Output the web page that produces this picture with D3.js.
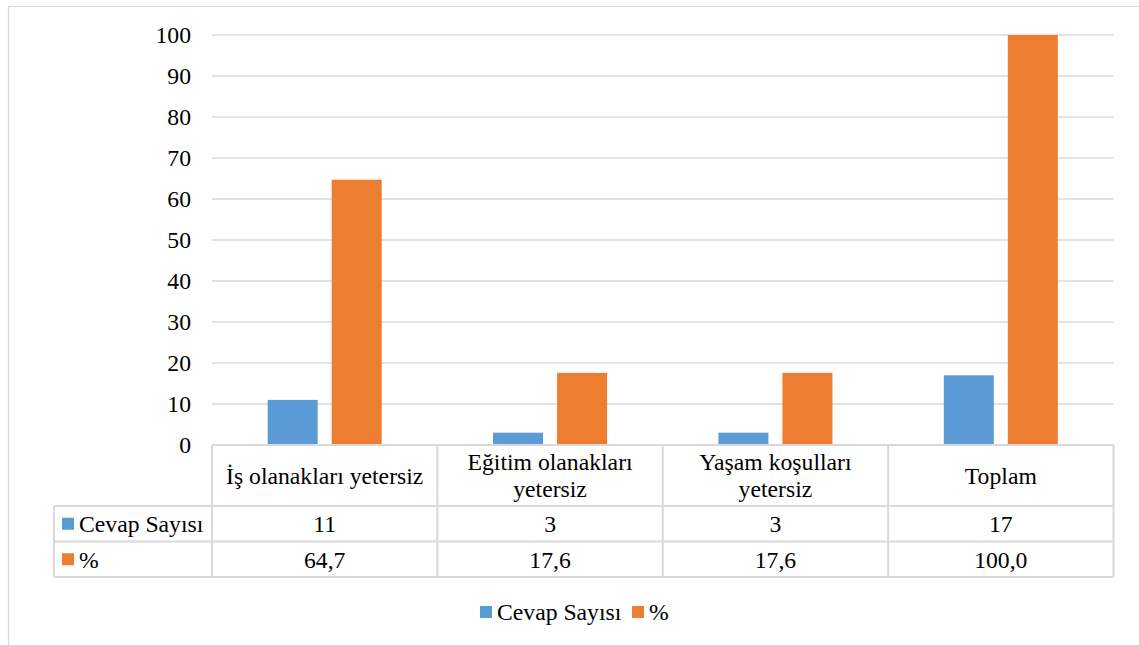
<!DOCTYPE html>
<html>
<head>
<meta charset="utf-8">
<script src="https://cdn.jsdelivr.net/npm/d3@7"></script>
<style>
  html, body { margin: 0; padding: 0; background: #fff; }
  svg { display: block; }
</style>
</head>
<body>
<svg id="chart" width="1139" height="645"></svg>
<script>
// Categories (header lines for the data table) and series values
const categories = ["İş olanakları yetersiz", "Eğitim olanakları yetersiz", "Yaşam koşulları yetersiz", "Toplam"];
const categoryLines = [["İş olanakları yetersiz"], ["Eğitim olanakları", "yetersiz"], ["Yaşam koşulları", "yetersiz"], ["Toplam"]];
const seriesNames = ["Cevap Sayısı", "%"];
const cevapSayisi = [11, 3, 3, 17];
const yuzde = [64.7, 17.6, 17.6, 100.0];
const cevapLabels = ["11", "3", "3", "17"];
const yuzdeLabels = ["64,7", "17,6", "17,6", "100,0"];
const yTicks = [0, 10, 20, 30, 40, 50, 60, 70, 80, 90, 100];

const colors = { "Cevap Sayısı": "#5b9bd5", "%": "#ed7d31" };
const gridColor = "#d9d9d9";
const fontSize = 23.7;
const fontFamily = "'Liberation Serif', 'Times New Roman', serif";

const svg = d3.select("#chart");

// Outer chart frame (top and left edges visible)
svg.append("line").attr("x1", 8.5).attr("x2", 1139).attr("y1", 6.5).attr("y2", 6.5)
  .attr("stroke", gridColor).attr("stroke-width", 1.2);
svg.append("line").attr("x1", 8.5).attr("x2", 8.5).attr("y1", 6.5).attr("y2", 645)
  .attr("stroke", gridColor).attr("stroke-width", 1.2);

const plotLeft = 212, plotRight = 1113.5, plotTop = 35, plotBottom = 445;

const y = d3.scaleLinear().domain([0, 100]).range([plotBottom, plotTop]);
const x = d3.scaleBand().domain(categories).range([plotLeft, plotRight])
  .paddingInner(0.494).paddingOuter(0.247);
const xs = d3.scaleBand().domain(seriesNames).range([0, x.bandwidth()])
  .paddingInner(0.219).paddingOuter(0);

// Gridlines
svg.append("g").selectAll("line").data(yTicks.filter(d => d > 0)).join("line")
  .attr("x1", plotLeft).attr("x2", plotRight)
  .attr("y1", d => y(d)).attr("y2", d => y(d))
  .attr("stroke", gridColor).attr("stroke-width", 1.5);

// Y axis labels
const yAxis = d3.axisLeft(y).tickValues(yTicks).tickSize(0).tickPadding(0);
const yg = svg.append("g").attr("transform", `translate(191,0)`).call(yAxis)
  .attr("font-family", fontFamily).attr("font-size", fontSize);
yg.select(".domain").remove();
yg.selectAll("text").attr("fill", "#000");

const label = (sel) => sel.attr("font-family", fontFamily).attr("font-size", fontSize).attr("fill", "#000");

// Bars
const rows = categories.map((c, i) => ({ cat: c, values: [
  { s: "Cevap Sayısı", v: cevapSayisi[i] }, { s: "%", v: yuzde[i] } ] }));
const groups = svg.append("g").selectAll("g").data(rows).join("g")
  .attr("transform", d => `translate(${x(d.cat)},0)`);
groups.selectAll("rect").data(d => d.values).join("rect")
  .attr("x", d => xs(d.s)).attr("width", xs.bandwidth())
  .attr("y", d => y(d.v)).attr("height", d => y(0) - y(d.v))
  .attr("fill", d => colors[d.s]);

// Data table below the plot
const tableLeft = 54, headerBottom = 506, row1Bottom = 541.5, tableBottom = 577;
const colEdges = d3.range(categories.length + 1).map(i => plotLeft + i * x.step());
const tg = svg.append("g").attr("stroke", gridColor).attr("stroke-width", 2).attr("fill", "none");
tg.append("line").attr("x1", plotLeft).attr("x2", plotRight).attr("y1", plotBottom).attr("y2", plotBottom);
[headerBottom, row1Bottom, tableBottom].forEach(yy =>
  tg.append("line").attr("x1", tableLeft).attr("x2", plotRight).attr("y1", yy).attr("y2", yy));
colEdges.forEach(xx =>
  tg.append("line").attr("x1", xx).attr("x2", xx).attr("y1", plotBottom).attr("y2", tableBottom));
tg.append("line").attr("x1", tableLeft).attr("x2", tableLeft).attr("y1", headerBottom).attr("y2", tableBottom);

// Header text
categories.forEach((c, i) => {
  const cx = (colEdges[i] + colEdges[i + 1]) / 2;
  const lines = categoryLines[i];
  const mid = (plotBottom + headerBottom) / 2;
  const lh = 27;
  lines.forEach((ln, j) => {
    svg.append("text").attr("x", cx)
      .attr("y", mid + (j - (lines.length - 1) / 2) * lh)
      .attr("dy", "0.35em").attr("text-anchor", "middle")
      .call(label).text(ln);
  });
});

// Row labels with keys and values
const tableRows = [
  { name: "Cevap Sayısı", labels: cevapLabels, top: headerBottom, bottom: row1Bottom },
  { name: "%", labels: yuzdeLabels, top: row1Bottom, bottom: tableBottom }
];
tableRows.forEach(r => {
  const mid = (r.top + r.bottom) / 2;
  svg.append("rect").attr("x", 62).attr("y", mid - 6).attr("width", 12).attr("height", 12)
    .attr("fill", colors[r.name]);
  svg.append("text").attr("x", 79).attr("y", mid).attr("dy", "0.35em")
    .call(label).text(r.name);
  r.labels.forEach((lab, i) => {
    svg.append("text").attr("x", (colEdges[i] + colEdges[i + 1]) / 2).attr("y", mid)
      .attr("dy", "0.35em").attr("text-anchor", "middle")
      .call(label).text(lab);
  });
});

// Legend
const legend = svg.append("g").attr("transform", "translate(480,612)");
const legendItems = [{ name: "Cevap Sayısı", x: 0 }, { name: "%", x: 152 }];
legendItems.forEach(it => {
  legend.append("rect").attr("x", it.x).attr("y", -6).attr("width", 12).attr("height", 12)
    .attr("fill", colors[it.name]);
  legend.append("text").attr("x", it.x + 17).attr("y", 0).attr("dy", "0.35em")
    .call(label).text(it.name);
});
</script>
</body>
</html>
